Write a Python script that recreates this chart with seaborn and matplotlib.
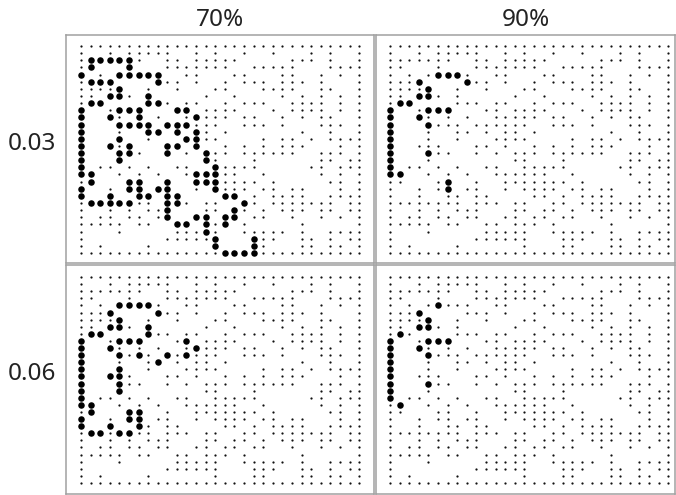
import pandas as pd
import matplotlib
matplotlib.use("Agg")
import matplotlib.pyplot as plt
import seaborn as sns

# ----------------------------------------------------------
# DATA
# ----------------------------------------------------------

col_titles = ["70%", "90%"]
row_titles = ["0.03", "0.06"]

# grid columns that hold a point, one list per grid row (30 x 30 grid)
base_cols = [
    list(range(30)),
    [0, 3, 5, 6, 7, 8, 9, 12, 14, 17, 20, 24, 26, 29],
    [0, 1, 2, 3, 4, 5, 6, 9, 10, 12, 13, 14, 15, 16, 22, 23, 24, 26, 29],
    [0, 1, 5, 9, 10, 11, 12, 13, 14, 15, 18, 19, 20, 21, 22, 26, 27, 28, 29],
    [0, 2, 4, 5, 6, 7, 8, 11, 12, 16, 17, 21, 22, 25, 27, 29],
    [0, 1, 2, 3, 8, 9, 10, 12, 15, 17, 18, 19, 21, 22, 23, 25, 29],
    [0, 1, 2, 3, 4, 7, 10, 14, 15, 19, 20, 21, 22, 25, 26, 29],
    [0, 1, 3, 4, 5, 7, 13, 16, 21, 23, 25, 27, 29],
    [0, 1, 2, 7, 8, 9, 11, 12, 15, 17, 18, 19, 22, 23, 24, 25, 27, 29],
    [0, 3, 4, 5, 6, 10, 11, 13, 14, 15, 16, 20, 22, 23, 24, 25, 27, 29],
    [0, 3, 4, 6, 8, 11, 12, 13, 14, 15, 17, 18, 21, 23, 25, 26, 29],
    [0, 4, 5, 6, 7, 9, 10, 11, 12, 13, 14, 17, 18, 19, 21, 25, 26, 27, 29],
    [0, 4, 7, 8, 10, 12, 13, 15, 23, 26, 29],
    [0, 4, 7, 11, 12, 13, 14, 19, 21, 22, 24, 26, 27, 28, 29],
    [0, 3, 4, 5, 9, 10, 12, 15, 17, 19, 21, 22, 23, 27, 29],
    [0, 4, 5, 6, 9, 11, 13, 14, 15, 17, 18, 19, 20, 21, 22, 25, 26, 27, 29],
    [0, 4, 13, 14, 18, 25, 26, 28, 29],
    [0, 2, 3, 5, 7, 10, 11, 14, 15, 16, 17, 18, 24, 25, 27, 28, 29],
    [0, 1, 4, 6, 8, 11, 12, 13, 14, 15, 16, 19, 25, 27, 29],
    [0, 1, 5, 6, 9, 12, 13, 14, 15, 16, 17, 18, 20, 26, 27, 29],
    [0, 3, 5, 6, 8, 9, 12, 14, 15, 16, 17, 19, 20, 22, 23, 27, 29],
    [0, 3, 6, 7, 9, 10, 15, 16, 18, 20, 21, 22, 23, 26, 27, 28, 29],
    [0, 1, 2, 3, 4, 5, 6, 7, 9, 10, 11, 13, 14, 17, 18, 20, 21, 22, 23, 24, 25, 26, 28, 29],
    [0, 3, 5, 7, 8, 9, 13, 14, 16, 17, 19, 21, 22, 23, 25, 26, 28, 29],
    [0, 2, 3, 5, 6, 8, 9, 12, 13, 15, 16, 18, 19, 22, 25, 27, 29],
    [0, 1, 2, 3, 4, 6, 7, 10, 11, 13, 14, 15, 17, 23, 29],
    [0, 4, 10, 11, 12, 13, 14, 17, 18, 19, 20, 21, 23, 26, 27, 28, 29],
    [0, 9, 10, 11, 12, 13, 14, 18, 19, 20, 23, 24, 26, 28, 29],
    [0, 2, 7, 14, 18, 19, 23, 24, 26, 27, 29],
    list(range(30)),
]

# highlighted points per panel: {grid row: [grid columns]}
big_003_70 = {
    2: [1, 2, 3, 4, 5], 3: [1, 5], 4: [0, 4, 5, 6, 7, 8], 5: [1, 2, 3, 8],
    6: [4], 7: [3, 4, 7], 8: [1, 2, 7, 8], 9: [0, 4, 5, 6, 10, 11],
    10: [0, 3, 6, 12], 11: [0, 4, 5, 6, 7, 9, 10, 11], 12: [0, 7, 8, 10, 12],
    13: [0, 4, 11, 12], 14: [0, 3, 5, 9, 10, 12], 15: [0, 4, 5, 9, 13],
    16: [0, 4, 13], 17: [0, 14], 18: [0, 1, 12, 13, 14],
    19: [1, 5, 6, 9, 12, 13, 14], 20: [0, 5, 6, 8, 9, 14],
    21: [0, 3, 6, 7, 9, 10, 15, 16], 22: [1, 2, 3, 4, 5, 9, 10, 17],
    23: [9, 16], 24: [9, 12, 13, 15, 16], 25: [10, 11, 13, 15], 26: [13],
    27: [14, 18], 28: [14, 18], 29: [15, 16, 17, 18],
}
big_003_90 = {
    4: [5, 6, 7], 5: [3, 8], 6: [4], 7: [3, 4], 8: [1, 2], 9: [0, 4, 5, 6],
    10: [0, 3], 11: [0, 4], 12: [0], 13: [0], 14: [0], 15: [0, 4], 16: [0],
    17: [0], 18: [0, 1], 19: [6], 20: [6],
}
big_006_70 = {
    4: [4, 5, 6, 7], 5: [3, 8], 6: [4], 7: [3, 4, 7], 8: [1, 2, 7],
    9: [0, 4, 5, 6, 11], 10: [0, 3, 12], 11: [0, 4, 6, 9, 11], 12: [0, 8],
    13: [0, 4], 14: [0, 3, 4], 15: [0, 4], 16: [0, 4], 17: [0], 18: [0, 1],
    19: [1, 5, 6], 20: [0, 5, 6], 21: [0, 3, 6], 22: [1, 2, 4, 5],
}
big_006_90 = {
    4: [5], 5: [3], 6: [4], 7: [3, 4], 8: [1], 9: [0, 4, 5, 6], 10: [0, 3],
    11: [0, 4], 12: [0], 13: [0], 14: [0], 15: [0, 4], 16: [0], 17: [0],
    18: [1],
}


def to_frame(rows):
    items = rows.items() if isinstance(rows, dict) else enumerate(rows)
    return pd.DataFrame(
        [(c, r) for r, cols in items for c in cols],
        columns=["col", "row"]
    )


base_df = to_frame(base_cols)
panels = [
    [to_frame(big_003_70), to_frame(big_003_90)],
    [to_frame(big_006_70), to_frame(big_006_90)],
]

# ----------------------------------------------------------
# FIGURE
# ----------------------------------------------------------

sns.set_style("white")
plt.rcParams["font.family"] = ["Noto Sans", "DejaVu Sans"]

W, H = 676, 495
fig = plt.figure(figsize=(W / 100, H / 100), dpi=100)

# panel boxes in pixels: (left, top, right, bottom)
col_px = [(66, 374), (376, 675)]
row_px = [(35, 263), (265, 494)]
xlims = [(-1.56, 30.55), (-1.46, 29.7)]
ylims = [(30.4, -1.54), (30.56, -1.69)]

for i in range(2):
    for j in range(2):
        l, r = col_px[j]
        t, b = row_px[i]
        ax = fig.add_axes([l / W, 1 - b / H, (r - l) / W, (b - t) / H])
        sns.scatterplot(data=base_df, x="col", y="row", ax=ax,
                        s=2.6, color="#111111", linewidth=0)
        sns.scatterplot(data=panels[i][j], x="col", y="row", ax=ax,
                        s=22, color="black", linewidth=0)
        ax.set_xlim(*xlims[j])
        ax.set_ylim(*ylims[i])
        ax.set_xticks([])
        ax.set_yticks([])
        ax.set_xlabel("")
        ax.set_ylabel("")
        for sp in ax.spines.values():
            sp.set_color("#a0a0a0")
            sp.set_linewidth(1.1)

for j, title in enumerate(col_titles):
    l, r = col_px[j]
    fig.text((l + r) / 2 / W, 1 - 26 / H, title,
             ha="center", va="baseline", fontsize=17.5, color="#222222")

for i, label in enumerate(row_titles):
    t, b = row_px[i]
    fig.text(56 / W, 1 - ((t + b) / 2 + 1) / H, label,
             ha="right", va="baseline", fontsize=17.5, color="#222222")

fig.savefig("out.png", dpi=100)
